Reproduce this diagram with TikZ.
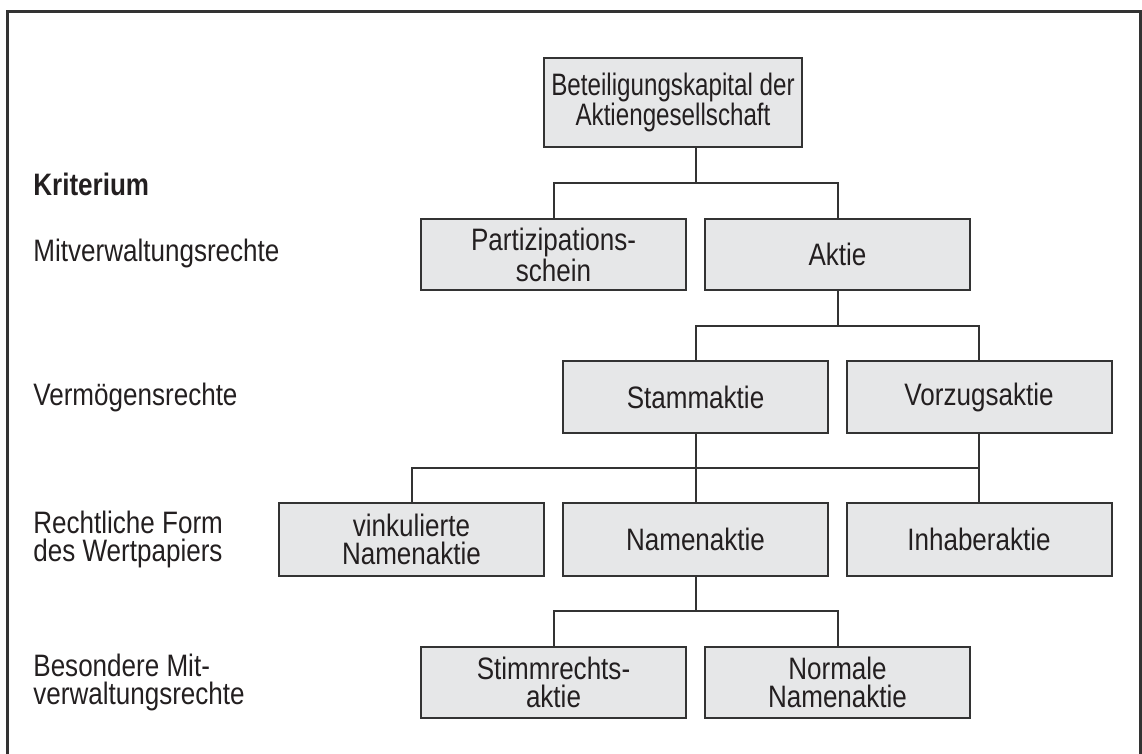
\documentclass[tikz,border=0pt]{standalone}
\usepackage{fontspec}
\setmainfont{Liberation Sans}[FakeStretch=0.84]
\newfontfamily\topboxfont{Liberation Sans}[FakeStretch=0.78]
\begin{document}
\begin{tikzpicture}[x=0.5pt,y=-0.5pt,
  every node/.style={text=txt},
  box/.style={draw=edge,fill=boxfill,line width=1pt,minimum width=132.5pt,minimum height=35.5pt,inner sep=0pt,align=center,font=\fontsize{15.5}{14}\selectfont},
  lbl/.style={anchor=west,align=left,inner sep=0pt,font=\fontsize{15.5}{14}\selectfont},
  conn/.style={draw=edge,line width=1pt}]
\definecolor{boxfill}{HTML}{E6E7E8}
\definecolor{edge}{HTML}{333333}
\definecolor{txt}{HTML}{231F20}
\useasboundingbox (0,0) rectangle (1142,754);
\draw[edge,line width=1.5pt] (7.5,770) -- (7.5,11.5) -- (1140.5,11.5) -- (1140.5,770);
% boxes
\node[box,minimum width=129pt,minimum height=44.5pt,font=\topboxfont\fontsize{15.5}{14}\selectfont] (top) at (673,102.5) {Beteiligungskapital der\\Aktiengesellschaft};
\node[box] (parti) at (553.5,254.5) {Partizipations-\\schein};
\node[box] (aktie) at (837.5,254.5) {Aktie};
\node[box,minimum height=36pt] (stamm) at (695.5,397) {Stammaktie};
\node[box,minimum height=36pt] (vorzug) at (979,397) {Vorzugsaktie};
\node[box,minimum height=36pt] (vink) at (411.5,539.5) {vinkulierte\\Namenaktie};
\node[box,minimum height=36pt] (namen) at (695.5,539.5) {Namenaktie};
\node[box,minimum height=36pt] (inhaber) at (979,539.5) {Inhaberaktie};
\node[box] (stimm) at (553.5,682.5) {Stimmrechts-\\aktie};
\node[box] (normale) at (837.5,682.5) {Normale\\Namenaktie};
% junctions
\coordinate (j1) at (695.5,183);
\coordinate (j2) at (837.5,326);
\coordinate (j3) at (979,468);
\coordinate (j4) at (695.5,611);
% connectors
\draw[conn] (top.south -| j1) -- (j1);
\draw[conn] (parti.north) |- (j1) -| (aktie.north);
\draw[conn] (aktie.south) -- (j2);
\draw[conn] (stamm.north) |- (j2) -| (vorzug.north);
\draw[conn] (stamm.south) -- (namen.north);
\draw[conn] (vorzug.south) -- (inhaber.north);
\draw[conn] (vink.north) |- (j3);
\draw[conn] (namen.south) -- (j4);
\draw[conn] (stimm.north) |- (j4) -| (normale.north);
% criteria labels
\node[lbl,font=\fontsize{15.5}{14}\selectfont\bfseries] (krit) at (33,184) {Kriterium};
\node[lbl] (l1) at (33,253) {Mitverwaltungsrechte};
\node[lbl] (l2) at (33,397) {Vermögensrechte};
\node[lbl] (l3) at (33,539.5) {Rechtliche Form\\des Wertpapiers};
\node[lbl] (l4) at (33,682.5) {Besondere Mit-\\verwaltungsrechte};
\end{tikzpicture}
\end{document}
